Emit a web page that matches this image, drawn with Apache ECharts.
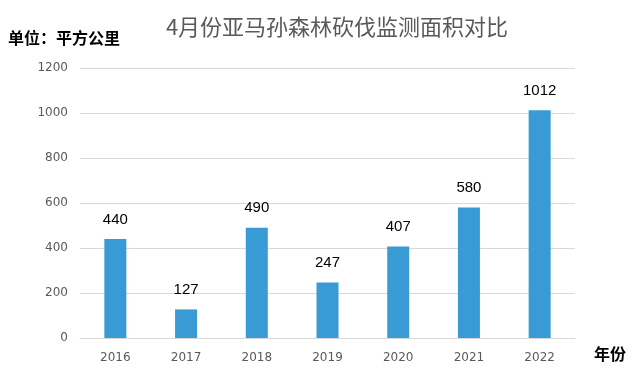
<!DOCTYPE html>
<html>
<head>
<meta charset="utf-8">
<script src="https://cdn.jsdelivr.net/npm/echarts@6/dist/echarts.min.js"></script>
<style>
  html, body { margin: 0; padding: 0; background: #fff; }
  #main { width: 632px; height: 377px; }
</style>
</head>
<body>
<div id="main"></div>
<script>
var years = ['2016', '2017', '2018', '2019', '2020', '2021', '2022'];
var areas = [440, 127, 490, 247, 407, 580, 1012];

var chart = echarts.init(document.getElementById('main'));
chart.setOption({
  animation: false,
  title: {
    text: '4月份亚马孙森林砍伐监测面积对比',
    left: 332,
    textAlign: 'center',
    top: 11,
    textStyle: { color: '#595959', fontSize: 22, fontWeight: 'normal', fontFamily: 'Noto Sans CJK SC' }
  },
  graphic: [
    { type: 'text', left: 8, top: 30, style: { text: '单位：平方公里', fill: '#000', font: 'bold 16px "Noto Sans CJK SC"' } },
    { type: 'text', left: 594, top: 346, style: { text: '年份', fill: '#000', font: 'bold 16px "Noto Sans CJK SC"' } }
  ],
  grid: { left: 80, right: 57, top: 68, bottom: 39 },
  xAxis: {
    type: 'category',
    data: years,
    axisLine: { lineStyle: { color: '#d9d9d9' } },
    axisTick: { show: false },
    axisLabel: { color: '#595959', fontSize: 12, margin: 14, fontFamily: 'DejaVu Sans' }
  },
  yAxis: {
    type: 'value',
    min: 0,
    max: 1200,
    interval: 200,
    axisLine: { show: false },
    axisTick: { show: false },
    splitLine: { lineStyle: { color: '#d9d9d9' } },
    axisLabel: { color: '#595959', fontSize: 12, margin: 12, fontFamily: 'DejaVu Sans', formatter: function (v) { return String(v); } }
  },
  series: [{
    type: 'bar',
    data: areas,
    barWidth: 22,
    itemStyle: { color: '#389bd6' },
    label: { show: true, position: 'top', distance: 12, color: '#000', fontSize: 15, fontFamily: 'Liberation Sans' }
  }]
});
</script>
</body>
</html>
